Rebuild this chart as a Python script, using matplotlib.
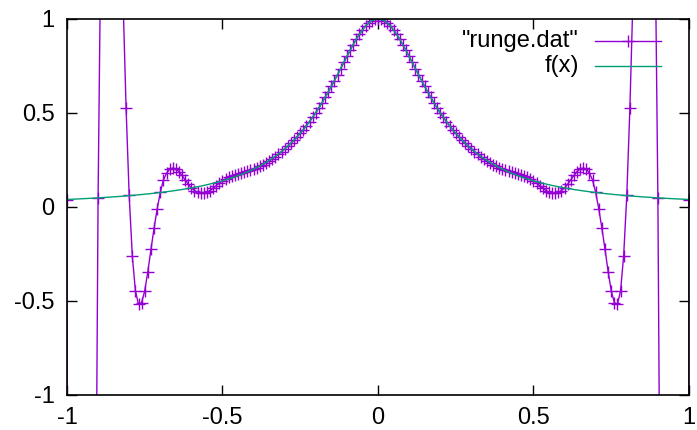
import numpy as np
import matplotlib
matplotlib.use("Agg")
import matplotlib.pyplot as plt
from matplotlib.ticker import FuncFormatter

plt.rcParams['font.family'] = ['Liberation Sans', 'DejaVu Sans']
plt.rcParams['axes.unicode_minus'] = False

# "runge.dat" values for x = 0.00 .. 1.00 (step 0.01);
# the curve is symmetric, so the left half is the mirror of these
runge_x_half = [round(0.01 * i, 2) for i in range(101)]
runge_y_half = [
    1.000, 0.998, 0.990, 0.978, 0.962, 0.941, 0.917, 0.891, 0.862, 0.832,
    0.800, 0.768, 0.735, 0.703, 0.671, 0.640, 0.610, 0.581, 0.553, 0.526,
    0.500, 0.476, 0.453, 0.431, 0.410, 0.390, 0.372, 0.354, 0.338, 0.322,
    0.308, 0.293, 0.279, 0.266, 0.254, 0.243, 0.233, 0.224, 0.215, 0.207,
    0.200, 0.195, 0.190, 0.185, 0.180, 0.175, 0.170, 0.164, 0.157, 0.149,
    0.138, 0.126, 0.112, 0.098, 0.086, 0.078, 0.074, 0.073, 0.077, 0.086,
    0.100, 0.120, 0.143, 0.166, 0.187, 0.201, 0.206, 0.199, 0.178, 0.142,
    0.076, -0.012, -0.115, -0.227, -0.345, -0.447, -0.510, -0.520, -0.447, -0.260,
    0.060, 0.525, 1.12, 1.8, 2.5, 3.0, 3.3, 3.2, 2.7, 1.6,
    0.047, -2.5, -8.0, -18.0, -30.0, -45.0, -58.0, -60.0, -50.0, -25.0,
    0.038,
]

# f(x) values for x = 0.00 .. 1.00 (step 0.02)
f_x_half = [round(0.02 * i, 2) for i in range(51)]
f_y_half = [
    1.000, 0.990, 0.962, 0.917, 0.862, 0.800, 0.735, 0.671, 0.610, 0.553,
    0.500, 0.453, 0.410, 0.372, 0.338, 0.308, 0.281, 0.257, 0.236, 0.217,
    0.200, 0.1848, 0.1712, 0.159, 0.1479, 0.1379, 0.1289, 0.1206, 0.1131, 0.1063,
    0.100, 0.0943, 0.089, 0.0841, 0.0796, 0.0755, 0.0716, 0.0681, 0.0648, 0.0617,
    0.0588, 0.0561, 0.0536, 0.0513, 0.0491, 0.0471, 0.0451, 0.0433, 0.0416, 0.04,
    0.0385,
]

x_ticks = [-1, -0.5, 0, 0.5, 1]
y_ticks = [-1, -0.5, 0, 0.5, 1]

purple = '#9400D3'
green = '#009E73'


def mirror(xs, ys):
    x = np.concatenate([-np.array(xs[:0:-1]), np.array(xs)])
    y = np.concatenate([np.array(ys[:0:-1]), np.array(ys)])
    return x, y


rx, ry = mirror(runge_x_half, runge_y_half)
fx, fy = mirror(f_x_half, f_y_half)

fig = plt.figure(figsize=(6.97, 4.30), dpi=100)
ax = fig.add_axes([0.0961, 0.0821, 0.8924, 0.8744])

ax.plot(rx, ry, color=purple, lw=1.0, marker='+', markersize=8,
        markeredgewidth=1.0)
ax.plot(fx, fy, color=green, lw=1.0)

ax.set_xlim(-1, 1)
ax.set_ylim(-1, 1)
ax.set_xticks(x_ticks)
ax.set_yticks(y_ticks)
fmt = FuncFormatter(lambda v, p: '%g' % v)
ax.xaxis.set_major_formatter(fmt)
ax.yaxis.set_major_formatter(fmt)
ax.tick_params(direction='in', length=7, width=1, top=True, right=True,
               labelsize=17, colors='black')
ax.tick_params(axis='y', pad=9)
ax.tick_params(axis='x', pad=9)
for s in ax.spines.values():
    s.set_linewidth(1.2)

# key, gnuplot style: right-aligned labels left of the samples
ax.text(0.823, 0.9407, '"runge.dat"', transform=ax.transAxes, ha='right',
        va='center', fontsize=17)
ax.plot([0.849, 0.955], [0.9407, 0.9407], transform=ax.transAxes,
        color=purple, lw=1.0)
ax.plot([0.902], [0.9407], transform=ax.transAxes, color=purple,
        marker='+', markersize=8, markeredgewidth=1.0)
ax.text(0.823, 0.874, 'f(x)', transform=ax.transAxes, ha='right',
        va='center', fontsize=17)
ax.plot([0.849, 0.955], [0.874, 0.874], transform=ax.transAxes,
        color=green, lw=1.0)

fig.savefig('out.png', dpi=100)
